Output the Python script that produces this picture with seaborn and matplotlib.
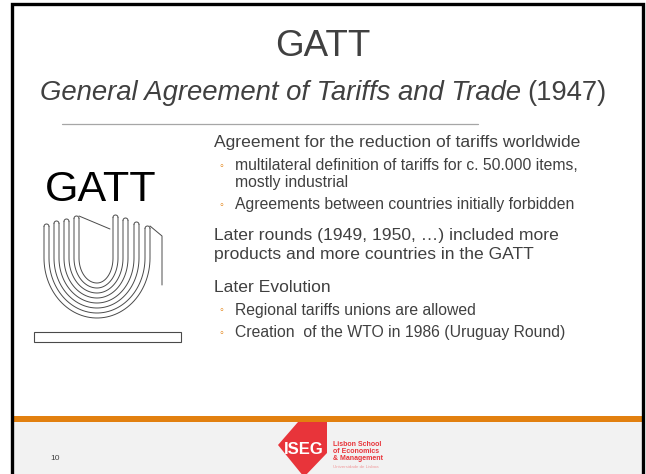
import numpy as np
import pandas as pd
import matplotlib
matplotlib.use("Agg")
import matplotlib.pyplot as plt
import seaborn as sns

# slide text
title = "GATT"
subtitle_it = "General Agreement of Tariffs and Trade"
subtitle_rm = "(1947)"
body_lines = [
    ("main", "Agreement for the reduction of tariffs worldwide"),
    ("sub", "multilateral definition of tariffs for c. 50.000 items,\nmostly industrial"),
    ("sub", "Agreements between countries initially forbidden"),
    ("main", "Later rounds (1949, 1950, \u2026) included more\nproducts and more countries in the GATT"),
    ("main", "Later Evolution"),
    ("sub", "Regional tariffs unions are allowed"),
    ("sub", "Creation  of the WTO in 1986 (Uruguay Round)"),
]
body_y = [143, 174, 205, 245, 288, 310, 333]
page_no = "10"
school_lines = ["Lisbon School", "of Economics", "& Management"]
univ_line = "Universidade de Lisboa"

# GATT emblem: nested tubes (outer-left x, outer-right x, tops, bottom)
tube_left = [74, 64, 54, 44]
tube_right = [118, 128, 139, 150]
tube_top_l = [216, 219, 221, 224]
tube_top_r = [215, 218, 222, 226]
tube_bottom = [288, 298, 308, 318]

TXT = "#404040"
ORANGE = "#E2800F"
RED = "#E8343A"
LINE = "#4A4A4A"

sns.set_theme(style="white")
plt.rcParams["font.family"] = ["Liberation Sans", "DejaVu Sans"]

fig = plt.figure(figsize=(6.46, 4.74), dpi=100)
ax = fig.add_axes([0, 0, 1, 1])
ax.set_xlim(0, 646)
ax.set_ylim(474, 0)
ax.axis("off")

# footer
ax.fill_between([13, 642], 422, 474, color="#F2F2F2", lw=0, zorder=1)
ax.add_patch(plt.Polygon([(298, 422), (278, 445), (304, 477), (327, 453), (327, 422)],
                         closed=True, color=RED, lw=0, zorder=2))
ax.text(304, 449, "ISEG", color="white", fontsize=12, fontweight="bold",
        ha="center", va="center", zorder=3)
for i, s in enumerate(school_lines):
    ax.text(333, 445 + i * 6.5, s, color=RED, fontsize=5, fontweight="bold",
            ha="left", va="center", zorder=3)
ax.text(333, 467, univ_line, color="#F09A9C", fontsize=3.2, ha="left", va="center", zorder=3)
ax.text(50, 458, page_no, color=TXT, fontsize=6, ha="left", va="center", zorder=3)
ax.fill_between([13, 642], 416, 422, color=ORANGE, lw=0, zorder=4)

# frame
ax.plot([12, 12, 643, 643], [474, 4, 4, 474], color="black", lw=2.4,
        solid_joinstyle="miter", zorder=5)

# title block
ax.text(323, 46, title, color=TXT, fontsize=26.5, ha="center", va="center")
fs_sub = 19.8
t1 = ax.text(0, 93, subtitle_it, color=TXT, fontsize=fs_sub, style="italic",
             ha="left", va="center")
t2 = ax.text(0, 93, subtitle_rm, color=TXT, fontsize=fs_sub, ha="left", va="center")
fig.canvas.draw()
r = fig.canvas.get_renderer()
w1 = t1.get_window_extent(r).width
w2 = t2.get_window_extent(r).width
gap = 6
x0 = 323.5 - (w1 + gap + w2) / 2
t1.set_x(x0)
t2.set_x(x0 + w1 + gap)
sns.lineplot(x=[62, 478], y=[124, 124], color="#A6A6A6", lw=0.9, ax=ax)

# body
for (kind, s), y in zip(body_lines, body_y):
    if kind == "main":
        ax.text(214, y, s, color=TXT, fontsize=12.6, ha="left", va="center",
                linespacing=1.3)
    else:
        first_y = y - 8 if "\n" in s else y
        ax.text(219, first_y, "\u25e6", color=ORANGE, fontsize=8, ha="left", va="center")
        ax.text(235, y, s, color=TXT, fontsize=11.3, ha="left", va="center",
                linespacing=1.15)

# emblem
ax.text(101, 190, "GATT", color="black", fontsize=31, ha="center", va="center")
cx = 97
for xl, xr, tl, tr, yb in zip(tube_left, tube_right, tube_top_l, tube_top_r, tube_bottom):
    for off in (0, 5):
        yc = 258
        b = yb - off - yc
        th = np.linspace(np.pi, 0, 60)
        a_l = cx - (xl + off)
        a_r = (xr - off) - cx
        xs = np.where(th > np.pi / 2, cx + a_l * np.cos(th), cx + a_r * np.cos(th))
        ys = yc + b * np.sin(th)
        px = np.r_[xl + off, xs, xr - off]
        py = np.r_[tl + 2.5, ys, tr + 2.5]
        df = pd.DataFrame({"x": px, "y": py})
        sns.lineplot(data=df, x="x", y="y", sort=False, estimator=None,
                     color=LINE, lw=0.7, ax=ax)
    for x0c, t0 in ((xl + 2.5, tl + 2.5), (xr - 2.5, tr + 2.5)):
        ang = np.linspace(np.pi, 2 * np.pi, 20)
        ax.plot(x0c + 2.5 * np.cos(ang), t0 + 2.5 * np.sin(ang), color=LINE, lw=0.7)
ax.plot([79, 110], [216, 229], color=LINE, lw=0.7)
ax.plot([150, 162, 162], [226, 236, 285], color=LINE, lw=0.7)
ax.add_patch(plt.Rectangle((34, 332), 147, 10, fill=False, ec=LINE, lw=0.8))

ax.set_xlim(0, 646)
ax.set_ylim(474, 0)
ax.set_xlabel("")
ax.set_ylabel("")
fig.savefig("out.png", dpi=100)
